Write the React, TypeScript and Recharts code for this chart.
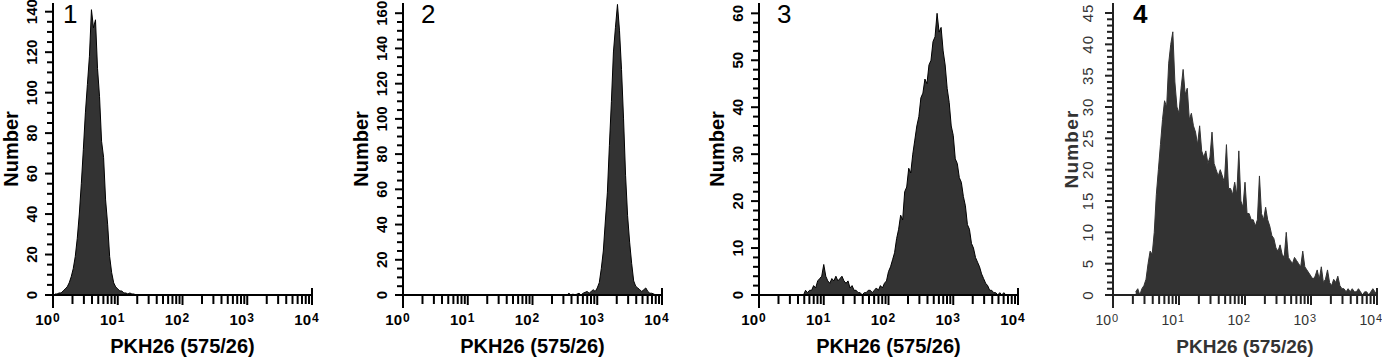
import { Area, AreaChart, XAxis, YAxis } from 'recharts'

const FONT = '"Liberation Sans", Arial, Helvetica, sans-serif'

// histogram channels, 32 per decade; each list starts at its channel index
const CH_PER_DECADE = 32

const start1 = 1
const counts1 = [
  0.5, 0.5, 1, 1, 2, 3, 4, 6, 9, 13, 19, 28, 40, 55, 72, 90, 104, 118, 141, 132,
  136, 112, 98, 76, 68, 47, 35, 19, 11, 6, 4, 3, 2, 2, 1, 1, 0.5, 1, 0.5, 0.5, 0,
]

const start2 = 81
const counts2 = [
  0, 1, 0, 0.5, 0, 0.5, 1, 0, 1, 1.5, 2, 1, 2, 3, 2, 4, 7, 15, 25, 42, 58, 85,
  110, 138, 152, 165, 150, 128, 100, 68, 45, 30, 18, 8, 5, 4, 3, 2, 3, 4, 2, 1,
  1, 0.5, 0,
]

const start3 = 22
const counts3 = [
  0, 1, 0.5, 1, 1, 2, 1.5, 3, 3.5, 4, 6.5, 4, 3, 2.5, 3.5, 3, 4, 3, 3.5, 4, 3,
  2.5, 3, 1.5, 2, 1, 1, 0.5, 0.5, 0, 0.5, 0.5, 1, 1, 0.5, 1, 1.5, 1, 2, 1.5, 2.5,
  3, 5, 6, 7.5, 9, 12, 14, 17, 16, 22, 23, 27, 26, 30, 33, 36, 38, 42, 43, 46, 45,
  49, 50, 54, 55, 60, 56, 57, 52, 49, 44, 41, 36, 34, 29, 28, 25, 24, 21, 19, 15,
  14, 11, 10, 8, 7, 6, 4.5, 3.5, 2.5, 2, 1, 1, 0.5, 0.5, 0, 0.5, 0, 0.5, 0,
]

const start4 = 11
const counts4 = [
  0.5, 1, 0, 1, 1.5, 2.5, 5, 7, 6.5, 10, 16, 20, 24, 28, 31, 30, 37, 40, 42, 34,
  30, 29, 33, 36, 32, 33, 28, 29, 27, 26, 24, 27, 23, 22, 23, 21, 22, 26, 21, 20,
  19, 20, 19, 18, 24, 17, 17, 16, 18, 16, 23, 15, 14, 18, 13, 13, 12, 12, 11, 12,
  19, 13, 12, 14, 12, 11, 9.5, 9, 7.5, 7, 8, 6.5, 6, 10, 6, 5.5, 5, 6, 5.5, 5,
  4.5, 7, 4.5, 4, 3.5, 3, 2.5, 3, 4, 2.5, 4.5, 2, 2.5, 4, 2, 1.5, 2.5, 2, 3, 1.5,
  1, 1, 0.5, 1, 0.5, 1, 0.5, 0.5, 1, 0.5, 0, 0.5, 0.5, 0, 0.5, 1, 0.5, 0,
]

const decades = [0, 1, 2, 3, 4]
const minorSteps = [2, 3, 4, 5, 6, 7, 8, 9]
const panelLabels = ['1', '2', '3', '4']
const xTitle = 'PKH26 (575/26)'
const yTitle = 'Number'

const xTicks = [
  ...decades,
  ...decades.slice(0, 4).flatMap((d) => minorSteps.map((m) => d + Math.log10(m))),
]

const yTicks = (max: number, step: number) =>
  Array.from({ length: Math.floor(max / step) + 1 }, (_, i) => i * step)

const toRows = (start: number, counts: number[]) =>
  counts.map((n, i) => ({ u: (start + i) / CH_PER_DECADE, n }))

const PANELS = [
  { label: panelLabels[0], rows: toRows(start1, counts1), yMax: 144.3, yTop: 140, yStep: 5, yLabelStep: 20, left: 0, axisX: 53, axisEnd: 312, width: 330, numDx: 10, light: false },
  { label: panelLabels[1], rows: toRows(start2, counts2), yMax: 165.8, yTop: 160, yStep: 5, yLabelStep: 20, left: 340, axisX: 403, axisEnd: 662, width: 340, numDx: 18, light: false },
  { label: panelLabels[2], rows: toRows(start3, counts3), yMax: 62.2, yTop: 60, yStep: 2, yLabelStep: 10, left: 690, axisX: 759, axisEnd: 1018, width: 340, numDx: 18, light: false },
  { label: panelLabels[3], rows: toRows(start4, counts4), yMax: 46.6, yTop: 45, yStep: 1, yLabelStep: 5, left: 1040, axisX: 1113, axisEnd: 1377, width: 342, numDx: 20, light: true },
]

const BASE_Y = 295
const TOP_Y = 3

const XTick = ({ x, y, payload, light }: any) => {
  const v = payload.value
  const d = Math.round(v)
  const major = Math.abs(v - d) < 1e-6
  const ink = light ? '#222' : '#000'
  let y1 = y
  let y2 = y + (major ? 10 : 9)
  if (major && d === 0) y2 = y + 13
  if (major && d === 4) y1 = y - 7
  return (
    <g>
      <line x1={x} x2={x} y1={y1} y2={y2} stroke={ink} strokeWidth={2} />
      {major && (
        <g fontFamily={FONT} fontWeight={light ? 'normal' : 'bold'} fill={light ? '#333' : '#000'}>
          <text x={x - (light ? 2 : 1)} y={y + 30} textAnchor="end" fontSize={light ? 14 : 15}>
            10
          </text>
          <text x={x - (light ? 1 : 0)} y={y + 27} textAnchor="start" fontSize={light ? 11 : 12}>
            {d}
          </text>
        </g>
      )}
    </g>
  )
}

const YTick = ({ x, y, payload, labelStep, light }: any) => {
  const v = payload.value
  const major = Math.abs(v / labelStep - Math.round(v / labelStep)) < 1e-6
  const len = major ? 8 : 6
  const ink = light ? '#222' : '#000'
  return (
    <g>
      <line x1={x - len} x2={x} y1={y} y2={y} stroke={ink} strokeWidth={2} />
      {major && (
        <text
          transform={`translate(${x - (light ? 20 : 16)},${y}) rotate(-90)`}
          textAnchor="middle"
          fontFamily={FONT}
          fontWeight={light ? 'normal' : 'bold'}
          fontSize={15}
          letterSpacing={light ? 1 : 0}
          fill={light ? '#333' : '#000'}>
          {v}
        </text>
      )}
    </g>
  )
}

const Histogram = ({ panel }: { panel: (typeof PANELS)[number] }) => {
  const plotRight = panel.axisEnd - panel.left
  const ink = panel.light ? '#222' : '#000'
  return (
    <div style={{ position: 'absolute', left: panel.left, top: 0 }}>
      <AreaChart
        width={panel.width}
        height={362}
        data={panel.rows}
        margin={{ top: TOP_Y, right: panel.width - plotRight, bottom: 0, left: 0 }}>
        <XAxis
          dataKey="u"
          type="number"
          domain={[0, 4]}
          ticks={xTicks}
          interval={0}
          height={362 - BASE_Y}
          tickSize={0}
          tickMargin={0}
          axisLine={{ stroke: ink, strokeWidth: 2 }}
          tick={(p: any) => <XTick {...p} light={panel.light} />}
        />
        <YAxis
          type="number"
          domain={[0, panel.yMax]}
          ticks={yTicks(panel.yTop, panel.yStep)}
          interval={0}
          width={panel.axisX - panel.left}
          tickSize={0}
          tickMargin={0}
          axisLine={{ stroke: ink, strokeWidth: 2 }}
          tick={(p: any) => (
            <YTick {...p} labelStep={panel.yLabelStep} light={panel.light} />
          )}
        />
        <Area
          type="linear"
          dataKey="n"
          stroke={panel.light ? '#333' : '#000'}
          strokeWidth={1}
          fill="#333"
          fillOpacity={1}
          dot={false}
          activeDot={false}
          isAnimationActive={false}
        />
      </AreaChart>
    </div>
  )
}

export default function App() {
  return (
    <div
      style={{
        position: 'absolute',
        left: 0,
        top: 0,
        width: 1382,
        height: 362,
        background: '#fff',
        overflow: 'hidden',
      }}>
      {PANELS.map((p) => (
        <Histogram key={p.label} panel={p} />
      ))}
      <svg
        width={1382}
        height={362}
        style={{ position: 'absolute', left: 0, top: 0, pointerEvents: 'none' }}>
        {PANELS.map((p) => (
          <g key={p.label} fontFamily={FONT} fill={p.light ? '#333' : '#000'}>
            <text
              x={p.axisX + p.numDx}
              y={23}
              fontSize={26}
              fill="#000"
              fontWeight={p.light ? 'bold' : 'normal'}>
              {p.label}
            </text>
            <text
              transform={`translate(${p.axisX - 35},${(TOP_Y + BASE_Y) / 2}) rotate(-90)`}
              textAnchor="middle"
              fontSize={p.light ? 19 : 20}
              letterSpacing={p.light ? 1.2 : 0}
              fontWeight="bold">
              {yTitle}
            </text>
            <text
              x={(p.axisX + p.axisEnd) / 2}
              y={353}
              textAnchor="middle"
              fontSize={p.light ? 19 : 20}
              fontWeight="bold">
              {xTitle}
            </text>
          </g>
        ))}
      </svg>
    </div>
  )
}
